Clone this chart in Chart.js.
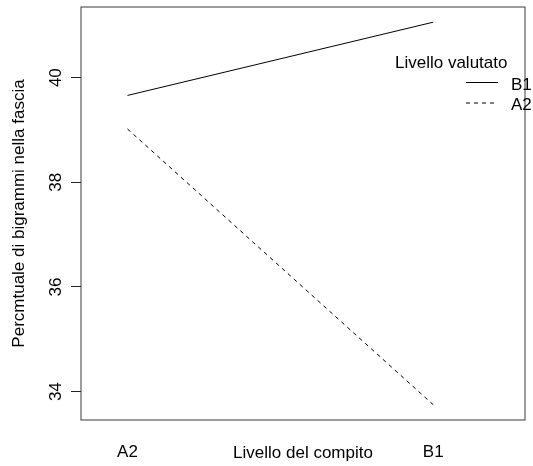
<!DOCTYPE html>
<html>
<head>
<meta charset="utf-8">
<title>Percentuale di bigrammi nella fascia</title>
<script src="https://cdn.jsdelivr.net/npm/chart.js@4/dist/chart.umd.min.js"></script>
<style>
  html, body { margin: 0; padding: 0; background: #ffffff; }
  canvas { display: block; }
</style>
</head>
<body>
<canvas id="chart" width="533" height="466"></canvas>
<script>
// Task level on the x axis, assessed level as the series
const categories = ['A2', 'B1'];
const seriesNames = ['B1', 'A2'];
const valuesB1 = [39.66, 41.06];
const valuesA2 = [39.02, 33.75];
const yTickValues = [34, 36, 38, 40];

const FONT = "'Liberation Sans', Arial, Helvetica, sans-serif";
Chart.defaults.font.family = FONT;
Chart.defaults.font.size = 17;
Chart.defaults.color = '#000000';

const toPoints = vals => vals.map((v, i) => ({ x: i + 1, y: v }));

// Box around the plotting region
const framePlugin = {
  id: 'frame',
  afterDraw(chart) {
    const { ctx, chartArea: a } = chart;
    ctx.save();
    ctx.strokeStyle = '#3a3a3a';
    ctx.lineWidth = 1;
    ctx.strokeRect(a.left, a.top, a.right - a.left, a.bottom - a.top);
    ctx.restore();
  }
};

// Legend with a title, line samples to the left of the labels
const lineLegendPlugin = {
  id: 'lineLegend',
  afterDraw(chart) {
    const { ctx } = chart;
    ctx.save();
    ctx.font = '17px ' + FONT;
    ctx.fillStyle = '#000000';
    ctx.textBaseline = 'alphabetic';
    ctx.textAlign = 'left';
    ctx.fillText('Livello valutato', 395, 68);
    chart.data.datasets.forEach((ds, i) => {
      const y = 82.5 + i * 20.5;
      ctx.beginPath();
      ctx.setLineDash(ds.borderDash || []);
      ctx.strokeStyle = ds.borderColor;
      ctx.lineWidth = ds.borderWidth;
      ctx.moveTo(466, y);
      ctx.lineTo(498, y);
      ctx.stroke();
      ctx.setLineDash([]);
      ctx.fillText(ds.label, 511, y + 7);
    });
    ctx.restore();
  }
};

new Chart(document.getElementById('chart'), {
  type: 'line',
  data: {
    datasets: [
      {
        label: seriesNames[0],
        data: toPoints(valuesB1),
        borderColor: '#000000',
        borderWidth: 1,
        borderDash: [],
        pointRadius: 0,
        tension: 0,
        fill: false
      },
      {
        label: seriesNames[1],
        data: toPoints(valuesA2),
        borderColor: '#000000',
        borderWidth: 1,
        borderDash: [4, 4],
        pointRadius: 0,
        tension: 0,
        fill: false
      }
    ]
  },
  options: {
    responsive: false,
    devicePixelRatio: 1,
    animation: false,
    layout: { padding: { left: 0, top: 7, right: 8, bottom: 0 } },
    plugins: {
      legend: { display: false },
      tooltip: { enabled: false }
    },
    scales: {
      x: {
        type: 'linear',
        min: 0.848,
        max: 2.30,
        afterBuildTicks: s => { s.ticks = categories.map((c, i) => ({ value: i + 1 })); },
        afterFit: s => { s.height = 46; s.paddingLeft = 0; s.paddingRight = 0; },
        ticks: {
          callback: v => categories[v - 1],
          padding: 22,
          maxRotation: 0,
          color: '#000000',
          font: { size: 17 }
        },
        grid: { display: false, drawTicks: false },
        border: { display: false },
        title: {
          display: true,
          text: 'Livello del compito',
          color: '#000000',
          font: { size: 17 },
          padding: { top: 0, bottom: 2 }
        }
      },
      y: {
        type: 'linear',
        min: 33.458,
        max: 41.35,
        afterBuildTicks: s => { s.ticks = yTickValues.map(v => ({ value: v })); },
        afterFit: s => { s.width = 81; s.paddingTop = 0; s.paddingBottom = 0; },
        ticks: {
          minRotation: 90,
          maxRotation: 90,
          crossAlign: 'center',
          padding: 5,
          color: '#000000',
          font: { size: 17 }
        },
        grid: {
          display: true,
          drawOnChartArea: false,
          drawTicks: true,
          tickLength: 10,
          tickColor: '#222222',
          tickWidth: 1
        },
        border: { display: false },
        title: {
          display: true,
          text: 'Percmtuale di bigrammi nella fascia',
          color: '#000000',
          font: { size: 17 },
          padding: { top: 9.5, bottom: 0 }
        }
      }
    }
  },
  plugins: [framePlugin, lineLegendPlugin]
});
</script>
</body>
</html>
